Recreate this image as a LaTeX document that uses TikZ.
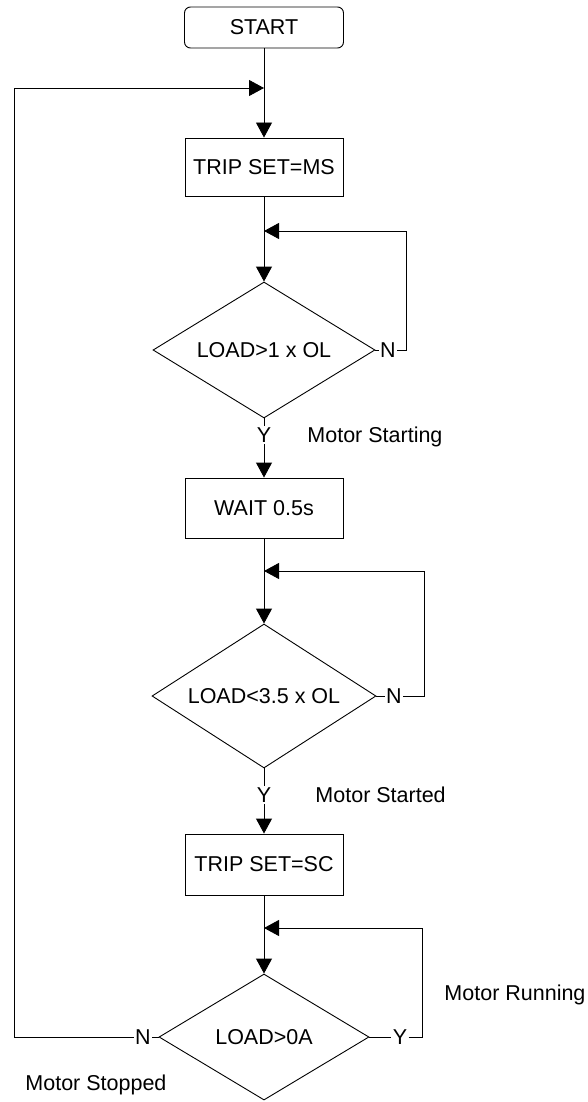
\documentclass[tikz,border=0pt]{standalone}
\usepackage{fontspec}
\setmainfont{Liberation Sans}
\usetikzlibrary{shapes.geometric,arrows.meta}

\tikzset{
  every node/.style={font=\fontsize{21.5}{25}\selectfont},
  stepbox/.style={draw, minimum width=158pt, inner sep=0pt},
  startbox/.style={draw, rounded corners=6pt, minimum width=159pt, minimum height=41pt, inner sep=0pt},
  decision/.style={draw, diamond, aspect=1.6, inner sep=0pt},
  lbl/.style={inner sep=1pt},
  note/.style={inner sep=0pt, anchor=west},
  arr/.style={-{Triangle[length=15pt,width=16pt]}},
}

\begin{document}
\begin{tikzpicture}[x=1pt, y=-1pt, line width=0.9pt]
  \useasboundingbox (0,0) rectangle (588,1102);

  % process column
  \node[startbox] (start) at (264,27.5) {START};
  \node[stepbox, minimum height=58pt] (ms) at (264,167) {TRIP SET=MS};
  \node[decision, minimum width=222pt, minimum height=136pt] (d1) at (264,350) {LOAD>1 x OL};
  \node[stepbox, minimum height=60pt] (wait) at (264,508) {WAIT 0.5s};
  \node[decision, minimum width=224pt, minimum height=144pt] (d2) at (264,696) {LOAD<3.5 x OL};
  \node[stepbox, minimum height=61pt] (sc) at (264,864.5) {TRIP SET=SC};
  \node[decision, minimum width=210pt, minimum height=126pt] (d3) at (264,1037) {LOAD>0A};

  % branch labels
  \node[lbl] (n1) at (388,350) {N};
  \node[lbl] (y1) at (264,435) {Y};
  \node[lbl] (n2) at (394,696) {N};
  \node[lbl] (y2) at (264,795) {Y};
  \node[lbl] (n3) at (143,1037) {N};
  \node[lbl] (y3) at (400,1037) {Y};

  % state notes
  \node[note] (sStarting) at (307,437) {Motor Starting};
  \node[note] (sStarted) at (315,795) {Motor Started};
  \node[note] (sRunning) at (444,995) {Motor Running};
  \node[note] (sStopped) at (25,1085) {Motor Stopped};

  % junctions and loop corners
  \coordinate (j0) at (264,88);
  \coordinate (j1) at (264,231);
  \coordinate (j2) at (264,571);
  \coordinate (j3) at (264,928);
  \coordinate (r1) at (406,231);
  \coordinate (r2) at (424,571);
  \coordinate (r3) at (422,928);
  \coordinate (lt) at (14,88);

  % main flow
  \draw[arr] (start.south) -- (ms.north);
  \draw[arr] (ms.south) -- (d1.north);
  \draw (d1.south) -- (y1.north);
  \draw[arr] (y1.south) -- (wait.north);
  \draw[arr] (wait.south) -- (d2.north);
  \draw (d2.south) -- (y2.north);
  \draw[arr] (y2.south) -- (sc.north);
  \draw[arr] (sc.south) -- (d3.north);

  % wait loops
  \draw (d1.east) -- (n1.west);
  \draw[arr] (n1.east) -| (r1) -- (j1);
  \draw (d2.east) -- (n2.west);
  \draw[arr] (n2.east) -| (r2) -- (j2);
  \draw (d3.east) -- (y3.west);
  \draw[arr] (y3.east) -| (r3) -- (j3);

  % restart loop
  \draw (d3.west) -- (n3.east);
  \draw[arr] (n3.west) -| (lt) -- (j0);
\end{tikzpicture}
\end{document}
